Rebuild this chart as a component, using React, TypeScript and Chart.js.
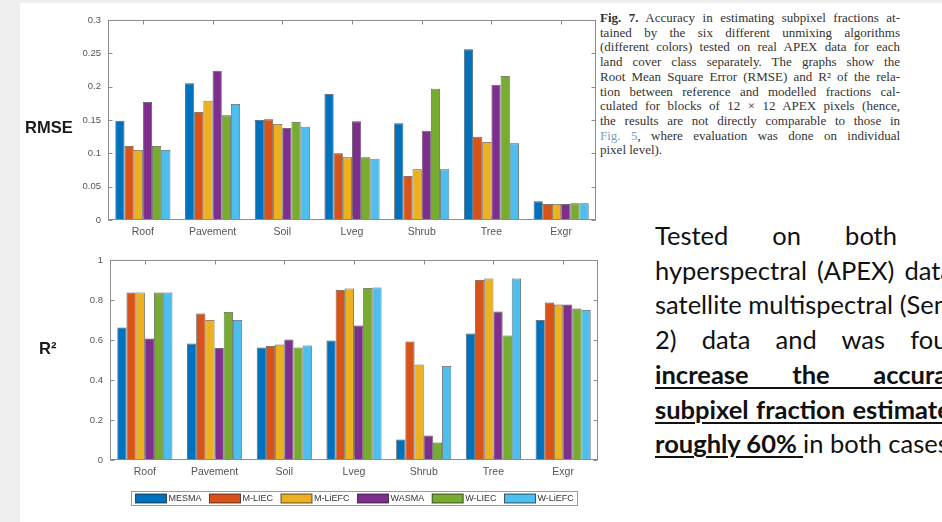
import React, { useEffect, useRef } from 'react';
import { Chart, registerables } from 'chart.js';

Chart.register(...registerables);

// ---------- data ----------
const categories = ['Roof', 'Pavement', 'Soil', 'Lveg', 'Shrub', 'Tree', 'Exgr'];
const seriesNames = ['MESMA', 'M-LIEC', 'M-LiEFC', 'WASMA', 'W-LIEC', 'W-LiEFC'];
const seriesColors = ['#0072BD', '#D95319', '#EDB120', '#7E2F8E', '#77AC30', '#4DBEEE'];

const rmseMESMA = [0.149, 0.205, 0.150, 0.189, 0.145, 0.256, 0.028];
const rmseMLIEC = [0.111, 0.162, 0.151, 0.100, 0.066, 0.125, 0.024];
const rmseMLiEFC = [0.105, 0.179, 0.144, 0.094, 0.076, 0.117, 0.024];
const rmseWASMA = [0.177, 0.224, 0.138, 0.148, 0.134, 0.203, 0.024];
const rmseWLIEC = [0.111, 0.157, 0.147, 0.094, 0.197, 0.216, 0.025];
const rmseWLiEFC = [0.105, 0.174, 0.140, 0.092, 0.076, 0.115, 0.025];

const r2MESMA = [0.663, 0.582, 0.563, 0.597, 0.103, 0.632, 0.700];
const r2MLIEC = [0.838, 0.732, 0.570, 0.850, 0.593, 0.900, 0.788];
const r2MLiEFC = [0.838, 0.700, 0.577, 0.858, 0.478, 0.908, 0.777];
const r2WASMA = [0.608, 0.560, 0.602, 0.672, 0.122, 0.742, 0.778];
const r2WLIEC = [0.838, 0.740, 0.563, 0.860, 0.087, 0.623, 0.757];
const r2WLiEFC = [0.838, 0.700, 0.573, 0.863, 0.470, 0.908, 0.750];

const rmseTicks = [0, 0.05, 0.1, 0.15, 0.2, 0.25, 0.3];
const rmseTickLabels = ['0', '0.05', '0.1', '0.15', '0.2', '0.25', '0.3'];
const r2Ticks = [0, 0.2, 0.4, 0.6, 0.8, 1];
const r2TickLabels = ['0', '0.2', '0.4', '0.6', '0.8', '1'];

const rmseSeries = [rmseMESMA, rmseMLIEC, rmseMLiEFC, rmseWASMA, rmseWLIEC, rmseWLiEFC];
const r2Series = [r2MESMA, r2MLIEC, r2MLiEFC, r2WASMA, r2WLIEC, r2WLiEFC];

// ---------- styling ----------
const AXIS_FONT = '"Liberation Sans", Arial, Helvetica, sans-serif';
const FRAME_COLOR = '#8c8c8c';
const LABEL_COLOR = '#555555';

const framePlugin = {
  id: 'matlabFrame',
  afterDraw(chart: any) {
    const { ctx, chartArea: a } = chart;
    const xs = chart.scales.x;
    const ys = chart.scales.y;
    const L = Math.round(a.left) + 0.5;
    const R = Math.round(a.right) - 0.5;
    const T = Math.round(a.top) + 0.5;
    const B = Math.round(a.bottom) - 0.5;
    ctx.save();
    ctx.strokeStyle = FRAME_COLOR;
    ctx.lineWidth = 1;
    ctx.beginPath();
    for (let i = 0; i < xs.ticks.length; i++) {
      const px = Math.round(xs.getPixelForTick(i)) + 0.5;
      ctx.moveTo(px, B);
      ctx.lineTo(px, B - 4);
      ctx.moveTo(px, T);
      ctx.lineTo(px, T + 4);
    }
    ys.ticks.forEach((t: any) => {
      const py = Math.round(ys.getPixelForValue(t.value)) + 0.5;
      ctx.moveTo(L, py);
      ctx.lineTo(L + 4, py);
      ctx.moveTo(R, py);
      ctx.lineTo(R - 4, py);
    });
    ctx.stroke();
    ctx.strokeRect(L, T, R - L, B - T);
    ctx.restore();
  },
};

const boxLegendPlugin = {
  id: 'boxLegend',
  afterDraw(chart: any) {
    const { ctx, chartArea: a } = chart;
    const items = chart.data.datasets.map((ds: any) => ({ label: ds.label, color: ds.backgroundColor }));
    ctx.save();
    ctx.font = `9px ${AXIS_FONT}`;
    const sw = 31, sh = 9, tg = 2, ig = 8, pad = 4, h = 14;
    const widths = items.map((it: any) => sw + tg + ctx.measureText(it.label).width);
    const total = widths.reduce((s: number, w: number) => s + w, 0) + ig * (items.length - 1) + pad * 2;
    const cx = (a.left + a.right) / 2;
    const x0 = Math.round(cx - total / 2) + 0.5;
    const top = Math.round(a.bottom) + 31 + 0.5;
    ctx.strokeStyle = '#9a9a9a';
    ctx.lineWidth = 1;
    ctx.strokeRect(x0, top, Math.round(total), h);
    let cur = x0 + pad;
    const midY = top + h / 2;
    items.forEach((it: any, i: number) => {
      ctx.fillStyle = it.color;
      ctx.fillRect(cur, midY - sh / 2, sw, sh);
      ctx.strokeStyle = 'rgba(20,20,20,0.7)';
      ctx.strokeRect(cur, midY - sh / 2, sw, sh);
      ctx.fillStyle = '#333333';
      ctx.textBaseline = 'middle';
      ctx.textAlign = 'left';
      ctx.fillText(it.label, cur + sw + tg, midY + 0.5);
      cur += widths[i] + ig;
    });
    ctx.restore();
  },
};

function makeConfig(
  series: number[][],
  ticks: number[],
  tickLabels: string[],
  yMax: number,
  yWidth: number,
  padding: any,
  withLegend: boolean
): any {
  return {
    type: 'bar',
    data: {
      labels: categories,
      datasets: seriesNames.map((name, i) => ({
        label: name,
        data: series[i],
        backgroundColor: seriesColors[i],
        borderColor: 'rgba(25,25,25,0.75)',
        borderWidth: 0.8,
        borderSkipped: 'start',
        categoryPercentage: 0.79,
        barPercentage: 1.0,
      })),
    },
    options: {
      responsive: false,
      animation: false,
      devicePixelRatio: 1,
      layout: { padding },
      plugins: {
        legend: { display: false },
        tooltip: { enabled: false },
        title: { display: false },
      },
      scales: {
        x: {
          grid: { display: false, drawTicks: false, tickLength: 0 },
          border: { display: false },
          ticks: {
            color: LABEL_COLOR,
            font: { family: AXIS_FONT, size: 10.5 },
            padding: 6,
            autoSkip: false,
            maxRotation: 0,
            minRotation: 0,
          },
          afterFit: (scale: any) => {
            scale.height = 25;
          },
        },
        y: {
          min: 0,
          max: yMax,
          grid: { display: false, drawTicks: false, tickLength: 0 },
          border: { display: false },
          afterBuildTicks: (scale: any) => {
            scale.ticks = ticks.map((v) => ({ value: v }));
          },
          ticks: {
            color: LABEL_COLOR,
            font: { family: AXIS_FONT, size: 9.5 },
            padding: 7,
            callback: (_v: any, idx: number) => tickLabels[idx],
          },
          afterFit: (scale: any) => {
            scale.width = yWidth;
          },
        },
      },
    },
    plugins: withLegend ? [framePlugin, boxLegendPlugin] : [framePlugin],
  };
}

const bodyFont = 'Lato, "Open Sans", "Noto Sans", sans-serif';

export default function App() {
  const topRef = useRef<HTMLCanvasElement>(null);
  const botRef = useRef<HTMLCanvasElement>(null);

  useEffect(() => {
    const c1 = new Chart(
      topRef.current as HTMLCanvasElement,
      makeConfig(rmseSeries, rmseTicks, rmseTickLabels, 0.3, 108, { top: 20, right: 4, bottom: 0, left: 0 }, false)
    );
    const c2 = new Chart(
      botRef.current as HTMLCanvasElement,
      makeConfig(r2Series, r2Ticks, r2TickLabels, 1, 110, { top: 20, right: 4, bottom: 37, left: 0 }, true)
    );
    return () => {
      c1.destroy();
      c2.destroy();
    };
  }, []);

  const capLine: React.CSSProperties = {
    textAlign: 'justify',
    textAlignLast: 'justify' as any,
    whiteSpace: 'nowrap',
  };

  const bodyLine = (w: number, bold = false): React.CSSProperties => ({
    width: w,
    textAlign: 'justify',
    textAlignLast: 'justify' as any,
    whiteSpace: 'nowrap',
    fontWeight: bold ? 700 : 400,
    textDecoration: bold ? 'underline' : 'none',
    textDecorationThickness: bold ? '2px' : undefined,
    textUnderlineOffset: bold ? '3px' : undefined,
  });

  return (
    <div
      style={{
        position: 'fixed',
        left: 0,
        top: 0,
        width: 942,
        height: 522,
        overflow: 'hidden',
        background: '#efefef',
      }}
    >
      <div style={{ position: 'absolute', left: 20, top: 3, right: 0, bottom: 0, background: '#ffffff' }} />
      <canvas ref={topRef} width={600} height={245} style={{ position: 'absolute', left: 0, top: 0 }} />
      <canvas ref={botRef} width={602} height={282} style={{ position: 'absolute', left: 0, top: 240 }} />

      <div
        style={{
          position: 'absolute',
          left: 25,
          top: 118,
          lineHeight: '20px',
          font: `bold 16.5px ${AXIS_FONT}`,
          color: '#1a1a1a',
        }}
      >
        RMSE
      </div>
      <div
        style={{
          position: 'absolute',
          left: 39,
          top: 339,
          lineHeight: '20px',
          font: `bold 16.5px ${AXIS_FONT}`,
          color: '#1a1a1a',
        }}
      >
        R²
      </div>

      <div
        style={{
          position: 'absolute',
          left: 600,
          top: 11,
          width: 300,
          fontFamily: '"Liberation Serif", "DejaVu Serif", serif',
          fontSize: 13,
          lineHeight: '14.7px',
          color: '#333333',
        }}
      >
        <div style={capLine}>
          <b>Fig. 7.</b> Accuracy in estimating subpixel fractions at-
        </div>
        <div style={capLine}>tained by the six different unmixing algorithms</div>
        <div style={capLine}>(different colors) tested on real APEX data for each</div>
        <div style={capLine}>land cover class separately. The graphs show the</div>
        <div style={capLine}>Root Mean Square Error (RMSE) and R² of the rela-</div>
        <div style={capLine}>tion between reference and modelled fractions cal-</div>
        <div style={capLine}>culated for blocks of 12 × 12 APEX pixels (hence,</div>
        <div style={capLine}>the results are not directly comparable to those in</div>
        <div style={capLine}>
          <span style={{ color: '#7f9fbf' }}>Fig. 5</span>, where evaluation was done on individual
        </div>
        <div style={{ whiteSpace: 'nowrap' }}>pixel level).</div>
      </div>

      <div
        style={{
          position: 'absolute',
          left: 655,
          top: 218,
          fontFamily: bodyFont,
          fontSize: 25.5,
          lineHeight: '34.7px',
          color: '#111111',
        }}
      >
        <div style={bodyLine(242)}>Tested on both</div>
        <div style={bodyLine(298)}>hyperspectral (APEX) data</div>
        <div style={bodyLine(336)}>satellite multispectral (Sentinel-</div>
        <div style={bodyLine(321)}>2) data and was found</div>
        <div style={bodyLine(318, true)}>increase the accuracy</div>
        <div style={bodyLine(307, true)}>subpixel fraction estimates</div>
        <div style={{ whiteSpace: 'nowrap' }}>
          <span
            style={{
              fontWeight: 700,
              textDecoration: 'underline',
              textDecorationThickness: '2px',
              textUnderlineOffset: '3px',
            }}
          >
            roughly 60%{' '}
          </span>
          in both cases.
        </div>
      </div>
    </div>
  );
}
